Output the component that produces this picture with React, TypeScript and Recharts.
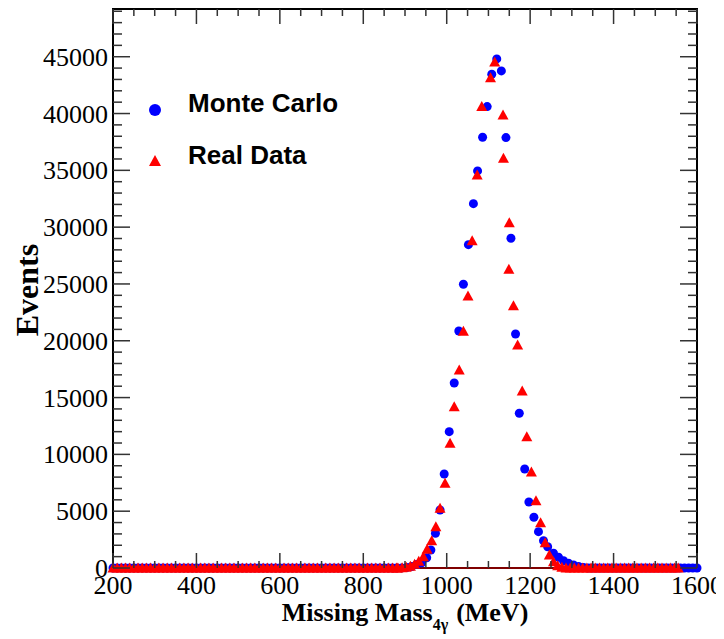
import React from 'react';
import { ScatterChart, Scatter, XAxis, YAxis, ReferenceArea, ReferenceLine } from 'recharts';

// Monte Carlo, peak region (MeV, events)
const mcX = [892, 904, 916, 928, 940, 952, 962, 973, 984, 994, 1006, 1018, 1029, 1040, 1052, 1064, 1074, 1086, 1097, 1108, 1120, 1131, 1142, 1154, 1165, 1174, 1187, 1197, 1209, 1220, 1232, 1242, 1256, 1268, 1280, 1292, 1304, 1316, 1328];
const mcY = [10, 40, 130, 300, 467, 907, 1584, 3055, 5106, 8275, 12000, 16285, 20862, 24974, 28460, 32070, 34950, 37910, 40610, 43460, 44806, 43750, 37880, 29023, 20598, 13618, 8715, 5810, 4463, 3196, 2403, 1875, 1294, 942, 643, 414, 264, 130, 50];

// Real data, peak region
const dataX = [883, 893, 903, 913, 923, 933, 944, 953, 964, 974, 984, 996, 1008, 1018, 1030, 1040, 1051, 1061, 1073, 1084, 1105, 1115, 1135, 1136, 1150, 1149, 1160, 1170, 1181, 1192, 1203, 1214, 1225, 1236, 1246, 1256, 1266, 1276];
const dataY = [5, 20, 70, 160, 330, 600, 995, 1646, 2403, 3636, 5255, 7456, 10977, 14200, 17430, 20836, 23944, 28812, 34595, 40610, 43160, 44542, 39877, 36065, 30396, 26294, 23090, 19630, 15581, 11558, 8450, 5924, 3988, 2227, 1144, 555, 200, 60];

// empty bins on both sides of the peak (0 events)
const lowTailX = [200, 210, 220, 230, 240, 250, 260, 270, 280, 290, 300, 310, 320, 330, 340, 350, 360, 370, 380, 390, 400, 410, 420, 430, 440, 450, 460, 470, 480, 490, 500, 510, 520, 530, 540, 550, 560, 570, 580, 590, 600, 610, 620, 630, 640, 650, 660, 670, 680, 690, 700, 710, 720, 730, 740, 750, 760, 770, 780, 790, 800, 810, 820, 830, 840, 850, 860, 870, 880];
const mcHighTailX = [1340, 1350, 1360, 1370, 1380, 1390, 1400, 1410, 1420, 1430, 1440, 1450, 1460, 1470, 1480, 1490, 1500, 1510, 1520, 1530, 1540, 1550, 1560, 1570, 1580, 1590, 1600];
const dataHighTailX = [1286, 1296, 1306, 1316, 1326, 1336, 1346, 1356, 1366, 1376, 1386, 1396, 1406, 1416, 1426, 1436, 1446, 1456, 1466, 1476, 1486, 1496, 1506, 1516, 1526, 1536, 1546, 1555];

const xTicks = [200, 250, 300, 350, 400, 450, 500, 550, 600, 650, 700, 750, 800, 850, 900, 950, 1000, 1050, 1100, 1150, 1200, 1250, 1300, 1350, 1400, 1450, 1500, 1550, 1600];
const yTicks = [0, 1000, 2000, 3000, 4000, 5000, 6000, 7000, 8000, 9000, 10000, 11000, 12000, 13000, 14000, 15000, 16000, 17000, 18000, 19000, 20000, 21000, 22000, 23000, 24000, 25000, 26000, 27000, 28000, 29000, 30000, 31000, 32000, 33000, 34000, 35000, 36000, 37000, 38000, 39000, 40000, 41000, 42000, 43000, 44000, 45000, 46000, 47000, 48000, 49000];
const Y_MAX = 49200;

const mcData = [
  ...lowTailX.map(x => ({ x, y: 0 })),
  ...mcX.map((x, i) => ({ x, y: mcY[i] })),
  ...mcHighTailX.map(x => ({ x, y: 0 })),
];
const realData = [
  ...lowTailX.map(x => ({ x, y: 0 })),
  ...dataX.map((x, i) => ({ x, y: dataY[i] })),
  ...dataHighTailX.map(x => ({ x, y: 0 })),
];

const PLOT_W = 584;
const PLOT_H = 559;
const serif = '"Liberation Serif", "Times New Roman", serif';
const sans = '"Liberation Sans", Arial, sans-serif';

const XTick = (props: any) => {
  const { x, y, payload } = props;
  const v = payload.value;
  const major = v % 200 === 0;
  const len = major ? 15 : 7;
  return (
    <g>
      <line x1={x} y1={y} x2={x} y2={y - len} stroke="#333" strokeWidth={1.5} />
      <line x1={x} y1={y - PLOT_H} x2={x} y2={y - PLOT_H + len} stroke="#333" strokeWidth={1.5} />
      {major && (
        <text x={x} y={y + 26} textAnchor="middle" fontFamily={serif} fontSize={26} fill="#000">
          {v}
        </text>
      )}
    </g>
  );
};

const YTick = (props: any) => {
  const { x, y, payload } = props;
  const v = payload.value;
  const major = v % 5000 === 0;
  const len = major ? 17 : 9;
  return (
    <g>
      <line x1={x} y1={y} x2={x + len} y2={y} stroke="#333" strokeWidth={1.5} />
      <line x1={x + PLOT_W} y1={y} x2={x + PLOT_W - len} y2={y} stroke="#333" strokeWidth={1.5} />
      {major && (
        <text x={x - 5} y={y} dy="0.35em" textAnchor="end" fontFamily={serif} fontSize={26} fill="#000">
          {v}
        </text>
      )}
    </g>
  );
};

const BlueDot = (p: any) => <circle cx={p.cx} cy={p.cy} r={4.5} fill="#0000ff" />;
const RedTri = (p: any) => (
  <polygon
    points={`${p.cx - 5.5},${p.cy + 4.5} ${p.cx + 5.5},${p.cy + 4.5} ${p.cx},${p.cy - 5.5}`}
    fill="#ff0000"
  />
);

export default function App() {
  return (
    <div style={{ position: 'relative', width: 716, height: 631 }}>
      <ScatterChart width={716} height={631} margin={{ top: 1, right: 27, bottom: 11, left: 0 }}>
        <XAxis
          type="number"
          dataKey="x"
          domain={[200, 1600]}
          ticks={xTicks}
          interval={0}
          height={60}
          tickSize={0}
          tickMargin={0}
          tickLine={false}
          axisLine={false}
          tick={<XTick />}
        />
        <YAxis
          type="number"
          dataKey="y"
          domain={[0, Y_MAX]}
          ticks={yTicks}
          interval={0}
          width={105}
          tickSize={0}
          tickMargin={0}
          tickLine={false}
          axisLine={false}
          tick={<YTick />}
        />
        <ReferenceLine y={0} stroke="#ff0000" strokeWidth={1} />
        <ReferenceArea x1={200} x2={1600} y1={0} y2={Y_MAX} fill="none" stroke="#000" strokeWidth={2} ifOverflow="visible" />
        <Scatter name="Monte Carlo" data={mcData} shape={<BlueDot />} isAnimationActive={false} />
        <Scatter name="Real Data" data={realData} shape={<RedTri />} isAnimationActive={false} />
      </ScatterChart>
      <svg
        width={716}
        height={631}
        style={{ position: 'absolute', left: 0, top: 0, pointerEvents: 'none' }}
      >
        <circle cx={147} cy={102} r={6} fill="#0000ff" />
        <text x={180} y={104} fontFamily={sans} fontWeight="bold" fontSize={26} fill="#000">
          Monte Carlo
        </text>
        <polygon points="141,158 153,158 147,147" fill="#ff0000" />
        <text x={180} y={156} fontFamily={sans} fontWeight="bold" fontSize={26} fill="#000">
          Real Data
        </text>
        <text
          transform="translate(30,282) rotate(-90)"
          textAnchor="middle"
          fontFamily={serif}
          fontWeight="bold"
          fontSize={32}
          fill="#000"
        >
          Events
        </text>
        <text x={397} y={613} textAnchor="middle" fontFamily={serif} fontWeight="bold" fontSize={26} fill="#000">
          Missing Mass
          <tspan fontSize={16} dy={9}>4γ</tspan>
          <tspan dy={-9} dx={8}>(MeV)</tspan>
        </text>
      </svg>
    </div>
  );
}
